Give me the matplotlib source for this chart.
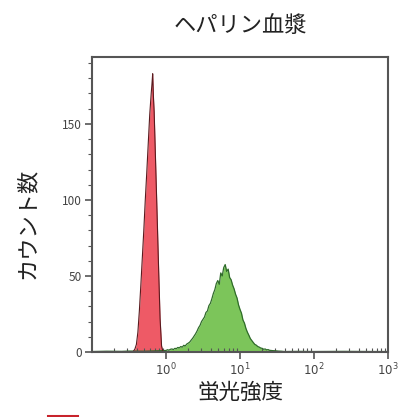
import numpy as np
import matplotlib.pyplot as plt
from matplotlib.ticker import LogLocator, MultipleLocator, FixedLocator

plt.rcParams['font.family'] = ['Noto Sans CJK JP', 'DejaVu Sans']

title = "ヘパリン血漿"
xlabel = "蛍光強度"
ylabel = "カウント数"

# red peak (control) : log10 of fluorescence, counts
red_log = [-0.46, -0.44, -0.42, -0.40, -0.38, -0.36, -0.34, -0.32, -0.30, -0.28,
           -0.26, -0.24, -0.22, -0.20, -0.19, -0.18, -0.17, -0.16, -0.14, -0.12,
           -0.10, -0.08, -0.06, -0.04]
red_counts = [0, 0.5, 2, 5, 13, 27, 44, 62, 80, 100,
              118, 137, 156, 170, 176, 183, 168, 158, 124, 90,
              55, 22, 4, 0]

# green peak (heparin plasma sample)
green_log = [-1.00, -0.80, -0.60, -0.50, -0.30, -0.10,
             0.00, 0.02, 0.04, 0.06, 0.08, 0.10, 0.12, 0.14, 0.16, 0.18,
             0.20, 0.22, 0.24, 0.26, 0.28, 0.30, 0.32, 0.34, 0.36, 0.38,
             0.40, 0.42, 0.44, 0.46, 0.48, 0.50, 0.52, 0.54, 0.56, 0.58,
             0.60, 0.62, 0.64, 0.66, 0.68, 0.70, 0.72, 0.74, 0.76, 0.78,
             0.80, 0.82, 0.84, 0.86, 0.88, 0.90, 0.92, 0.94, 0.96, 0.98,
             1.00, 1.02, 1.04, 1.06, 1.08, 1.10, 1.12, 1.14, 1.16, 1.18,
             1.20, 1.22, 1.24, 1.26, 1.28, 1.30, 1.32, 1.34, 1.36, 1.38,
             1.40, 1.44, 1.48, 1.52, 1.56, 1.60, 1.80, 2.00, 2.40, 2.80, 3.00]
green_counts = [0.3, 0.5, 0.4, 0.6, 0.5, 0.8,
                1.0, 1.5, 1.2, 1.8, 2.0, 1.6, 2.4, 2.2, 3.0, 2.7,
                3.6, 3.2, 4.4, 4.0, 5.2, 5.8, 6.5, 7.8, 9.0, 10.5,
                12.0, 13.8, 16.0, 17.5, 20.0, 21.5, 23.0, 26.0, 27.0, 30.5,
                32.0, 35.0, 38.5, 41.0, 45.0, 47.0, 44.5, 52.0, 50.0, 55.5,
                57.5, 53.0, 54.5, 49.0, 47.5, 44.0, 41.5, 38.0, 35.5, 31.0,
                28.0, 25.5, 21.0, 19.0, 15.5, 13.0, 11.0, 8.8, 7.5, 6.2,
                5.0, 4.5, 3.6, 3.2, 2.6, 2.4, 1.8, 2.0, 1.4, 1.6,
                1.1, 0.9, 0.8, 0.6, 0.5, 0.3, 0.4, 0.3, 0.4, 0.3, 0.3]

red_x = 10 ** np.array(red_log)
green_x = 10 ** np.array(green_log)

fig = plt.figure(figsize=(3.98, 4.17), dpi=100)
ax = fig.add_axes([92 / 398, 1 - 352 / 417, 296 / 398, 295 / 417])

ax.fill_between(green_x, green_counts, color='#7cc55a', lw=0)
ax.plot(green_x, green_counts, color='#2f6b2a', lw=0.9)
ax.fill_between(red_x, red_counts, color='#ee5a66', lw=0)
ax.plot(red_x, red_counts, color='#5a1a1e', lw=0.8)

ax.set_xscale('log')
ax.set_xlim(0.1, 1000)
ax.set_ylim(0, 194)

ax.xaxis.set_major_locator(FixedLocator([1, 10, 100, 1000]))
ax.xaxis.set_minor_locator(LogLocator(base=10, subs=np.arange(2, 10), numticks=20))
ax.set_xticklabels(['$10^0$', '$10^1$', '$10^2$', '$10^3$'])
ax.yaxis.set_major_locator(FixedLocator([0, 50, 100, 150]))
ax.yaxis.set_minor_locator(MultipleLocator(10))

ax.tick_params(axis='both', which='major', labelsize=8.5, color='#555555',
               labelcolor='#444444', length=5, width=1.2, pad=2)
ax.tick_params(axis='y', which='minor', length=3, width=0.8, color='#555555')
ax.tick_params(axis='x', which='minor', direction='in', length=3, width=0.8,
               color='#555555')
for s in ax.spines.values():
    s.set_color('#555555')
    s.set_linewidth(1.5)

fig.text(240 / 398, 1 - 26 / 417, title, ha='center', va='center', fontsize=16,
         color='#222222')
fig.text(240 / 398, 1 - 393 / 417, xlabel, ha='center', va='center', fontsize=15.5,
         color='#222222')
fig.text(27 / 398, 1 - 223 / 417, ylabel, ha='center', va='center', fontsize=16,
         rotation=90, color='#222222')

# cropped red mark at the bottom edge
fig.add_artist(plt.Line2D([48 / 398, 77 / 398], [1.5 / 417, 1.5 / 417],
                          color='#c8232c', lw=2.2))

fig.savefig('out.png', dpi=100)
